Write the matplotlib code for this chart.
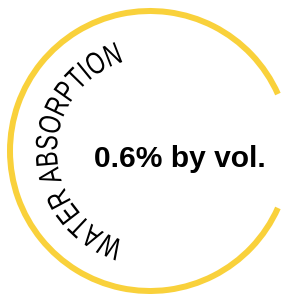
import numpy as np
import matplotlib
matplotlib.use('Agg')
import matplotlib.pyplot as plt
from matplotlib.patches import Arc
from matplotlib.textpath import TextPath
from matplotlib.font_manager import FontProperties
from matplotlib.transforms import Affine2D
from matplotlib.patheffects import AbstractPathEffect

# ---- data ----------------------------------------------------------------
label = "WATER ABSORPTION"
value = 0.6
unit = "% by vol."

# ---- geometry (pixel units, y up) ---------------------------------------
W, H = 281, 294
cx, cy = 150, 294 - 151
ring_r = 140
gap = 24                      # half-gap of the ring on the right, deg
ring_color = "#F9D13B"

fig = plt.figure(figsize=(W / 100, H / 100), dpi=100)
ax = fig.add_axes([0, 0, 1, 1])
ax.set_xlim(0, W); ax.set_ylim(0, H)
ax.set_aspect('equal'); ax.axis('off')

ax.add_patch(Arc((cx, cy), 2 * ring_r, 2 * ring_r, theta1=gap, theta2=360 - gap,
                 color=ring_color, lw=6 * 72 / 100, capstyle='butt'))


# ---- condensed glyphs: squeeze each text path around its centre ----------
class Condense(AbstractPathEffect):
    def __init__(self, sx):
        super().__init__()
        self.sx = sx

    def draw_path(self, renderer, gc, tpath, affine, rgbFace=None):
        ext = tpath.get_extents()
        xc = (ext.x0 + ext.x1) / 2
        sq = Affine2D().translate(-xc, 0).scale(self.sx, 1).translate(xc, 0)
        renderer.draw_path(gc, tpath, sq + affine, rgbFace)


# ---- curved label --------------------------------------------------------
fam = ['Liberation Sans', 'DejaVu Sans']
fp = FontProperties(family=fam)
em_px = 31
squeeze = 0.74
track = 0.0

def advance(ch):
    w2 = TextPath((0, 0), "xx", size=em_px, prop=fp).get_extents().width
    w3 = TextPath((0, 0), "x" + ch + "x", size=em_px, prop=fp).get_extents().width
    return (w3 - w2) * squeeze + track

base_r = 93
advs = [advance(c) for c in label]
total = sum(advs)
mid_angle = 180.0
start = mid_angle + np.degrees(total / base_r) / 2
pos = 0.0
for ch, a in zip(label, advs):
    ang = start - np.degrees((pos + a / 2) / base_r)
    pos += a
    if ch == " ":
        continue
    t = np.radians(ang)
    ax.text(cx + base_r * np.cos(t), cy + base_r * np.sin(t), ch,
            family=fam, fontsize=em_px * 72 / 100, rotation=ang - 90,
            rotation_mode='anchor', ha='center', va='baseline', color='black',
            path_effects=[Condense(squeeze)])

# ---- centre value --------------------------------------------------------
ax.text(180, 294 - 167, f"{value}{unit}", ha='center', va='baseline',
        family=fam, fontweight='bold', fontsize=30 * 72 / 100, color='black')

fig.savefig("out.png", dpi=100)
